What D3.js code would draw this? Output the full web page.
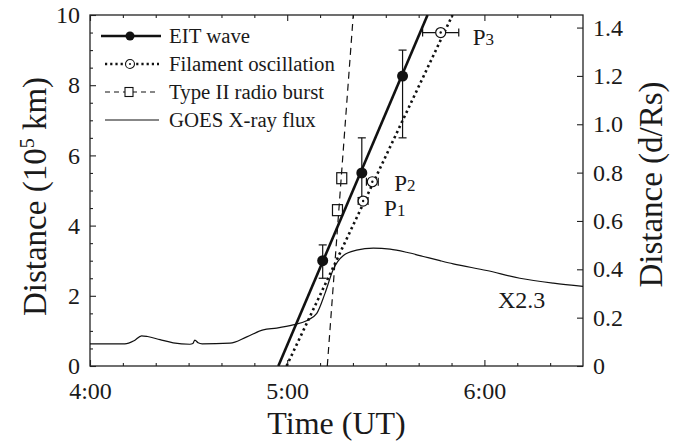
<!DOCTYPE html>
<html>
<head>
<meta charset="utf-8">
<script src="https://cdn.jsdelivr.net/npm/d3@7"></script>
<style>
body { margin: 0; background: #fff; }
text { font-family: "Liberation Serif", "Times New Roman", serif; fill: #1a1a1a; }
</style>
</head>
<body>
<svg id="chart" width="681" height="443"></svg>
<script>
// EIT wave front (time UT, distance in 10^5 km)
var eitTime = ["5:10.8", "5:22.7", "5:35.1"];
var eitDist = [3.0, 5.5, 8.26];
var eitLow = [2.5, 4.8, 6.5];
var eitHigh = [3.45, 6.5, 9.0];
var eitFitTime = ["4:57.3", "5:42.7"];
var eitFitDist = [0, 10];

// filament oscillation onsets P1..P3, +/- minutes
var filTime = ["5:23.1", "5:25.9", "5:46.7"];
var filDist = [4.7, 5.25, 9.5];
var filErr = [1.5, 1.8, 5.5];
var filNames = ["1", "2", "3"];
var filFitTime = ["4:59.8", "5:50.3"];
var filFitDist = [0, 10];

// type II radio burst
var radioTime = ["5:15.3", "5:16.6"];
var radioDist = [4.44, 5.35];
var radioFitTime = ["5:12.2", "5:20.1"];
var radioFitDist = [0, 10];

// GOES X-ray flux (scaled to left axis)
var goesTime = ["4:00", "4:10.6", "4:13.4", "4:15.7", "4:17.5", "4:21.3", "4:25.3", "4:30.4", "4:31.3",
  "4:31.9", "4:32.9", "4:34.1", "4:42.6", "4:47.7", "4:52.7", "4:56.8", "5:01.8", "5:05.9", "5:09.0",
  "5:11.5", "5:14.0", "5:17.1", "5:21.1", "5:26.2", "5:31.3", "5:36.3", "5:41.4", "5:46.5", "5:50.5",
  "6:00.7", "6:10.8", "6:21.0", "6:30"];
var goesVal = [0.63, 0.63, 0.72, 0.86, 0.84, 0.75, 0.66, 0.62, 0.64,
  0.74, 0.66, 0.63, 0.65, 0.83, 1.03, 1.08, 1.17, 1.29, 1.50,
  2.07, 2.75, 3.15, 3.30, 3.36, 3.33, 3.24, 3.12, 3.00, 2.91,
  2.72, 2.50, 2.36, 2.27];

var timeTicks = ["4:00", "5:00", "6:00"];
var distTicks = [0, 2, 4, 6, 8, 10];
var rsTicks = [0, 0.2, 0.4, 0.6, 0.8, 1.0, 1.2, 1.4];
var legendLabels = ["EIT wave", "Filament oscillation", "Type II radio burst", "GOES X-ray flux"];

function toMin(s) {
  var p = s.split(':');
  return +p[0] * 60 + +p[1];
}

var svg = d3.select("#chart"),
    margin = {top: 15, right: 98, bottom: 77, left: 90},
    width = svg.attr("width") - margin.left - margin.right,
    height = svg.attr("height") - margin.top - margin.bottom;

var g = svg.append("g")
    .attr("transform", "translate(" + margin.left + "," + margin.top + ")");

var x = d3.scaleLinear().domain([toMin("4:00"), toMin("6:30")]).range([0, width]);
var y = d3.scaleLinear().domain([0, 10]).range([height, 0]);
var y2 = d3.scaleLinear().domain([0, 1.452]).range([height, 0]);

svg.append("defs").append("clipPath").attr("id", "clip")
  .append("rect").attr("width", width).attr("height", height);

var minorTime = d3.range(toMin("4:10"), toMin("6:30"), 10).filter(d => d % 60 != 0);
var minorDist = d3.range(0.5, 10, 0.5).filter(d => d % 2 != 0);

function styleAxis(sel) {
  sel.attr("font-family", "Liberation Serif, serif").attr("font-size", 24);
  sel.select(".domain").remove();
  sel.selectAll(".tick line").attr("stroke", "#222").attr("stroke-width", 1.1);
  sel.selectAll(".tick text").attr("fill", "#1a1a1a");
}

// bottom
g.append("g").attr("transform", "translate(0," + height + ")")
  .call(d3.axisBottom(x).tickValues(timeTicks.map(toMin)).tickFormat((d, i) => timeTicks[i]).tickSize(-6).tickPadding(16))
  .call(styleAxis);
g.append("g").attr("transform", "translate(0," + height + ")")
  .call(d3.axisBottom(x).tickValues(minorTime).tickFormat("").tickSize(-3))
  .call(styleAxis);
// top
g.append("g")
  .call(d3.axisTop(x).tickValues(timeTicks.map(toMin)).tickFormat("").tickSize(-6))
  .call(styleAxis);
g.append("g")
  .call(d3.axisTop(x).tickValues(minorTime).tickFormat("").tickSize(-3))
  .call(styleAxis);
// left
g.append("g")
  .call(d3.axisLeft(y).tickValues(distTicks).tickFormat(d3.format("d")).tickSize(-6).tickPadding(10))
  .call(styleAxis);
g.append("g")
  .call(d3.axisLeft(y).tickValues(minorDist).tickFormat("").tickSize(-3))
  .call(styleAxis);
// right
g.append("g").attr("transform", "translate(" + width + ",0)")
  .call(d3.axisRight(y2).tickValues(rsTicks).tickFormat(d => d == 0 ? "0" : d3.format(".1f")(d)).tickSize(-6).tickPadding(10))
  .call(styleAxis);

g.append("rect")
  .attr("width", width).attr("height", height)
  .attr("fill", "none").attr("stroke", "#222").attr("stroke-width", 1.3);

var line = d3.line().x(d => x(toMin(d[0]))).y(d => y(d[1]));
var plot = g.append("g").attr("clip-path", "url(#clip)");

// GOES flux
plot.append("path")
  .datum(d3.zip(goesTime, goesVal))
  .attr("d", line.curve(d3.curveMonotoneX))
  .attr("fill", "none").attr("stroke", "#111").attr("stroke-width", 1.2);
line.curve(d3.curveLinear);

// fits
plot.append("path").datum(d3.zip(radioFitTime, radioFitDist)).attr("d", line)
  .attr("fill", "none").attr("stroke", "#111").attr("stroke-width", 1.2).attr("stroke-dasharray", "7,5");
plot.append("path").datum(d3.zip(filFitTime, filFitDist)).attr("d", line)
  .attr("fill", "none").attr("stroke", "#111").attr("stroke-width", 2.6).attr("stroke-dasharray", "2.4,3.2");
plot.append("path").datum(d3.zip(eitFitTime, eitFitDist)).attr("d", line)
  .attr("fill", "none").attr("stroke", "#111").attr("stroke-width", 2.6);

// radio squares
g.selectAll(".radio").data(d3.zip(radioTime, radioDist)).enter().append("rect")
  .attr("x", d => x(toMin(d[0])) - 5).attr("y", d => y(d[1]) - 5.5)
  .attr("width", 10).attr("height", 11)
  .attr("fill", "none").attr("stroke", "#111").attr("stroke-width", 1.2);

// EIT points with error bars
var eit = g.selectAll(".eit").data(d3.range(eitTime.length)).enter().append("g");
eit.append("line")
  .attr("x1", i => x(toMin(eitTime[i]))).attr("x2", i => x(toMin(eitTime[i])))
  .attr("y1", i => y(eitLow[i])).attr("y2", i => y(eitHigh[i]))
  .attr("stroke", "#111").attr("stroke-width", 1.2);
eit.append("line")
  .attr("x1", i => x(toMin(eitTime[i])) - 4).attr("x2", i => x(toMin(eitTime[i])) + 4)
  .attr("y1", i => y(eitHigh[i])).attr("y2", i => y(eitHigh[i]))
  .attr("stroke", "#111").attr("stroke-width", 1.2);
eit.append("line")
  .attr("x1", i => x(toMin(eitTime[i])) - 4).attr("x2", i => x(toMin(eitTime[i])) + 4)
  .attr("y1", i => y(eitLow[i])).attr("y2", i => y(eitLow[i]))
  .attr("stroke", "#111").attr("stroke-width", 1.2);
eit.append("circle")
  .attr("cx", i => x(toMin(eitTime[i]))).attr("cy", i => y(eitDist[i]))
  .attr("r", 5.5).attr("fill", "#111");

// filament points
var labelOffset = [[21, 15], [22, 9], [32, 12]];
var fil = g.selectAll(".fil").data(d3.range(filTime.length)).enter().append("g");
fil.append("line")
  .attr("x1", i => x(toMin(filTime[i]) - filErr[i])).attr("x2", i => x(toMin(filTime[i]) + filErr[i]))
  .attr("y1", i => y(filDist[i])).attr("y2", i => y(filDist[i]))
  .attr("stroke", "#111").attr("stroke-width", 1.2);
[-1, 1].forEach(function (s) {
  fil.append("line")
    .attr("x1", i => x(toMin(filTime[i]) + s * filErr[i])).attr("x2", i => x(toMin(filTime[i]) + s * filErr[i]))
    .attr("y1", i => y(filDist[i]) - 4).attr("y2", i => y(filDist[i]) + 4)
    .attr("stroke", "#111").attr("stroke-width", 1.2);
});
fil.append("circle")
  .attr("cx", i => x(toMin(filTime[i]))).attr("cy", i => y(filDist[i]))
  .attr("r", 5).attr("fill", "#fff").attr("stroke", "#111").attr("stroke-width", 1.2);
fil.append("circle")
  .attr("cx", i => x(toMin(filTime[i]))).attr("cy", i => y(filDist[i]))
  .attr("r", 1.2).attr("fill", "#111");
var ptxt = fil.append("text")
  .attr("x", i => x(toMin(filTime[i])) + labelOffset[i][0])
  .attr("y", i => y(filDist[i]) + labelOffset[i][1])
  .attr("font-size", 23).text("P");
ptxt.append("tspan").attr("font-size", 17).text(i => filNames[i]);

g.append("text")
  .attr("x", x(toMin("6:04.1"))).attr("y", y(1.65))
  .attr("font-size", 24).text("X2.3");

// legend
var lg = g.append("g").attr("transform", "translate(11,21)");
var rows = lg.selectAll("g").data(legendLabels).enter().append("g")
  .attr("transform", (d, i) => "translate(0," + (i * 28) + ")");
rows.append("text").attr("x", 68).attr("y", 7).attr("font-size", 20.8).text(d => d);
rows.append("line")
  .attr("x1", (d, i) => i == 0 ? 0 : 4).attr("x2", (d, i) => i == 0 ? 60 : 58)
  .attr("stroke", "#111")
  .attr("stroke-width", (d, i) => i == 1 ? 2.4 : (i == 0 ? 2.4 : 1.2))
  .attr("stroke-dasharray", (d, i) => i == 1 ? "2.2,3" : (i == 2 ? "5,4" : null));
rows.filter((d, i) => i == 0).append("circle").attr("cx", 29).attr("r", 4.5).attr("fill", "#111");
rows.filter((d, i) => i == 1).append("circle").attr("cx", 29).attr("r", 4.5)
  .attr("fill", "#fff").attr("stroke", "#111").attr("stroke-width", 1.1);
rows.filter((d, i) => i == 1).append("circle").attr("cx", 29).attr("r", 1).attr("fill", "#111");
rows.filter((d, i) => i == 2).append("rect").attr("x", 24).attr("y", -4.5).attr("width", 8).attr("height", 9)
  .attr("fill", "#fff").attr("stroke", "#111").attr("stroke-width", 1.1);

// axis titles
svg.append("text")
  .attr("text-anchor", "middle")
  .attr("x", margin.left + width / 2).attr("y", 434)
  .attr("font-size", 32).text("Time (UT)");

var lt = svg.append("text")
  .attr("text-anchor", "middle")
  .attr("transform", "translate(46," + (margin.top + height / 2 + 6) + ") rotate(-90)")
  .attr("font-size", 33).text("Distance (10");
lt.append("tspan").attr("font-size", 20).attr("dy", -12).text("5");
lt.append("tspan").attr("dy", 12).text(" km)");

svg.append("text")
  .attr("text-anchor", "middle")
  .attr("transform", "translate(662," + (margin.top + height / 2 - 6) + ") rotate(-90)")
  .attr("font-size", 33).text("Distance (d/Rs)");
</script>
</body>
</html>
